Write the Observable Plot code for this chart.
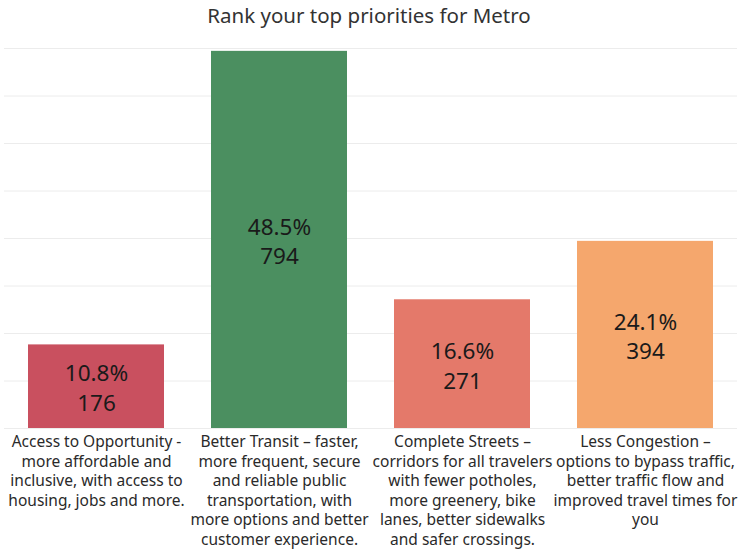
<!DOCTYPE html>
<html>
<head>
<meta charset="utf-8">
<script src="https://cdn.jsdelivr.net/npm/d3@7"></script>
<script src="https://cdn.jsdelivr.net/npm/@observablehq/plot@0.6"></script>
<style>
  html, body { margin: 0; padding: 0; background: #fff; }
  #title { height: 33px; line-height: 30px; text-align: center; font-family: "Noto Sans", sans-serif; font-size: 20.5px; color: #333; }
</style>
</head>
<body>
<div id="title">Rank your top priorities for Metro</div>
<div id="chart"></div>
<script>
const categories = ["Access to Opportunity", "Better Transit", "Complete Streets", "Less Congestion"];
const tickLabels = [
  "Access to Opportunity -\nmore affordable and\ninclusive, with access to\nhousing, jobs and more.",
  "Better Transit – faster,\nmore frequent, secure\nand reliable public\ntransportation, with\nmore options and better\ncustomer experience.",
  "Complete Streets –\ncorridors for all travelers\nwith fewer potholes,\nmore greenery, bike\nlanes, better sidewalks\nand safer crossings.",
  "Less Congestion –\noptions to bypass traffic,\nbetter traffic flow and\nimproved travel times for\nyou"
];
const counts = [176, 794, 271, 394];
const percents = ["10.8%", "48.5%", "16.6%", "24.1%"];
const colors = ["#c9505f", "#4b8f60", "#e4796a", "#f5a76d"];
const yTicks = [0, 100, 200, 300, 400, 500, 600, 700, 800];

const data = categories.map((c, i) => ({cat: c, count: counts[i], pct: percents[i], label: percents[i] + "\n" + counts[i]}));

const chart = Plot.plot({
  width: 738,
  height: 521,
  marginTop: 15,
  marginBottom: 126,
  marginLeft: 4,
  marginRight: 1,
  style: {fontFamily: "Noto Sans, sans-serif", background: "#fff"},
  x: {domain: categories, paddingInner: 0.255, paddingOuter: 0.12, label: null},
  y: {domain: [0, 800], label: null, axis: null},
  color: {domain: categories, range: colors},
  marks: [
    Plot.gridY(yTicks, {stroke: "#ececec", strokeOpacity: 1}),
    Plot.barY(data, {x: "cat", y: "count", fill: "cat"}),
    Plot.text(data, {x: "cat", y: d => d.count / 2, text: "label", fontSize: 22.5, fill: "#1a1a1a", lineHeight: 1.33, lineAnchor: "middle"}),
    Plot.axisX({tickSize: 0, tickPadding: 5, fontSize: 15.5, fill: "#2a2a2a", lineHeight: 1.26, lineAnchor: "top", tickFormat: d => tickLabels[categories.indexOf(d)], textOverflow: null})
  ]
});
document.getElementById("chart").appendChild(chart);
</script>
</body>
</html>
